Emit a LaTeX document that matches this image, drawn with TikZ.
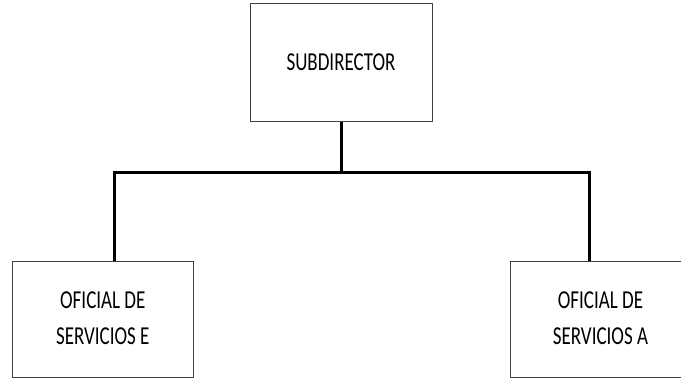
\documentclass[tikz,border=0pt]{standalone}
\usepackage{fontspec}
\setmainfont{Carlito}
\usepackage{graphicx}
\newcommand{\vtxt}[1]{\scalebox{1}[1.36]{\fontsize{19}{26.5}\selectfont\begin{tabular}{@{}c@{}}#1\end{tabular}}}
\definecolor{boxline}{HTML}{404040}
\tikzset{
  orgbox/.style={draw=boxline, line width=1pt, rectangle, inner sep=0pt, minimum width=181pt, minimum height=116pt},
  conn/.style={draw=black, line width=3pt, line join=miter}
}
\begin{document}
\begin{tikzpicture}[x=1pt, y=-1pt]
\useasboundingbox (0,0) rectangle (681,379);
\fill[white] (0,0) rectangle (681,379);
\node[orgbox, minimum width=182pt, minimum height=118pt] (top) at (341,63) {\vtxt{SUBDIRECTOR}};
\node[orgbox] (left) at (102.8,319.5) {\vtxt{OFICIAL DE\\SERVICIOS E}};
\node[orgbox] (right) at (600.5,319.5) {\vtxt{OFICIAL DE\\SERVICIOS A}};
\coordinate (jl) at (114.3,173);
\coordinate (jr) at (589,173);
\draw[conn] (top.south) -- (top.south |- jl);
\draw[conn] (jl |- left.north) -- (jl) -- (jr) -- (jr |- right.north);
\end{tikzpicture}
\end{document}
